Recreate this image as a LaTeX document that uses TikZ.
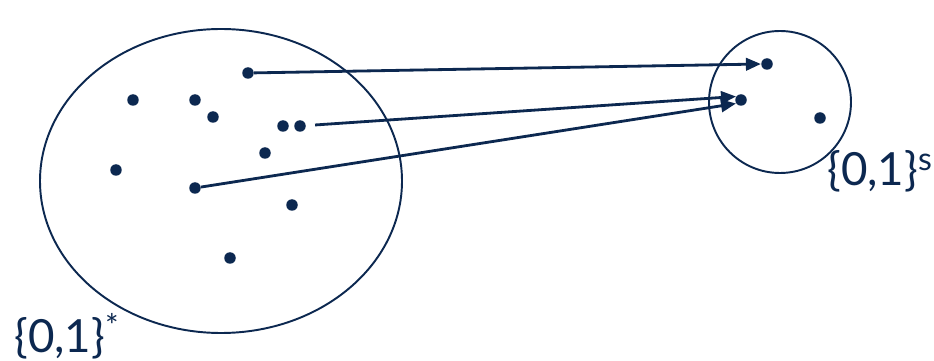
\documentclass[tikz,border=0pt]{standalone}
\usepackage{fontspec}
\setmainfont{Lato}
\usepackage{xcolor}
\usepackage{tikz}
\usetikzlibrary{arrows.meta, positioning, calc}
\definecolor{setnavy}{RGB}{12, 40, 80}
\tikzset{
    elem/.style={circle, fill=setnavy, inner sep=0pt, minimum size=0.23cm},
    setline/.style={draw=setnavy, line width=1.1pt},
    maparrow/.style={draw=setnavy, line width=1.6pt, -{Triangle[length=0.3cm, width=0.25cm]}},
    setlabel/.style={text=setnavy, font=\fontsize{26}{30}\selectfont, inner sep=0pt}
}
\begin{document}
\begin{tikzpicture}[x=0.02cm, y=-0.02cm]
    \useasboundingbox (0,0) rectangle (934,361);
    \draw [setline] (221,181) ellipse [x radius=181, y radius=152];
    \draw [setline] (780,102) circle [radius=71];

    \node (a1) [elem] at (248,73) {};
    \node (a2) [elem] at (133,100) {};
    \node (a3) [elem] at (195,100) {};
    \node (a4) [elem] at (213,117) {};
    \node (a5) [elem] at (283,126) {};
    \node (a6) [elem] at (300,126) {};
    \node (a7) [elem] at (265,153) {};
    \node (a8) [elem] at (116,170) {};
    \node (a9) [elem] at (195,188) {};
    \node (a10) [elem] at (292,205) {};
    \node (a11) [elem] at (230,258) {};

    \node (b1) [elem] at (767,64) {};
    \node (b2) [elem] at (741,100) {};
    \node (b3) [elem] at (820,118) {};

    \node (full) [setlabel, anchor=base west] at (14,353) {\{0,1\}\textsuperscript{*}};
    \node (short) [setlabel, anchor=base west] at (827,186) {\{0,1\}\textsuperscript{s}};

    \draw [maparrow] (a1) -- (b1.west);
    \draw [maparrow, shorten <=0.18cm] (a6) -- (b2.145);
    \draw [maparrow] (a9) -- (b2.215);
\end{tikzpicture}
\end{document}
